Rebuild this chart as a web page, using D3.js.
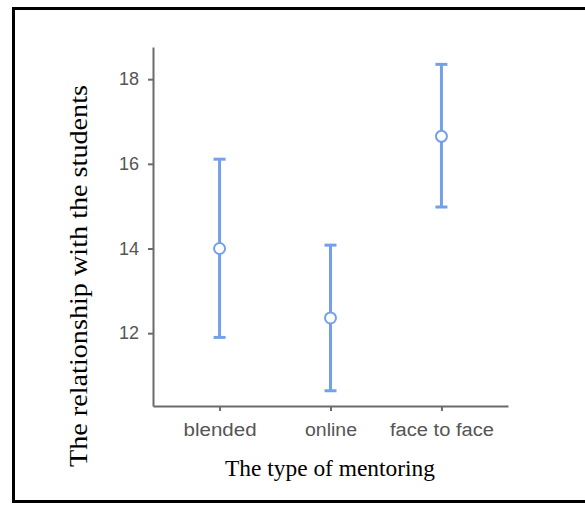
<!DOCTYPE html>
<html>
<head>
<meta charset="utf-8">
<script src="https://cdn.jsdelivr.net/npm/d3@7"></script>
<style>
  html, body { margin: 0; padding: 0; background: #fff; }
  svg { display: block; }
</style>
</head>
<body>
<svg id="chart" width="585" height="506"></svg>
<script>
// ---- data ----
const categories = ["blended", "online", "face to face"];
const means = [14.0, 12.36, 16.65];
const lower = [11.9, 10.64, 14.98];
const upper = [16.11, 14.08, 18.35];
const yTicks = [12, 14, 16, 18];
const xTitle = "The type of mentoring";
const yTitle = "The relationship with the students";

const svg = d3.select("#chart");
const W = 585, H = 506;
const color = "#74a0ea";
const axisColor = "#6b6b6b";

// frame border
svg.append("rect")
  .attr("x", 13.5).attr("y", 8.5)
  .attr("width", W + 10).attr("height", 493)
  .attr("fill", "#fff").attr("stroke", "#000").attr("stroke-width", 3);

const x = d3.scalePoint().domain(categories).range([153, 508]).padding(0.6);
const y = d3.scaleLinear().domain([10.28, 18.76]).range([406, 47]);

// y axis
const gy = svg.append("g").attr("transform", "translate(153,0)")
  .call(d3.axisLeft(y).tickValues(yTicks).tickSize(5).tickSizeOuter(0).tickPadding(9).tickFormat(d3.format("d")));
// x axis
const gx = svg.append("g").attr("transform", "translate(0,406)")
  .call(d3.axisBottom(x).tickSize(5).tickSizeOuter(0).tickPadding(12));

[gx, gy].forEach(g => {
  g.select(".domain").attr("stroke", axisColor).attr("stroke-width", 2);
  g.selectAll(".tick line").attr("stroke", axisColor).attr("stroke-width", 2);
  g.selectAll(".tick text")
    .attr("fill", "#555")
    .style("font-family", "Liberation Sans, Arial, sans-serif")
    .style("font-size", "18px");
});
gx.selectAll(".tick text").attr("textLength", (d, i) => [73, 52, 104][i]).attr("lengthAdjust", "spacingAndGlyphs");

// error bars
const bars = svg.append("g");
const data = categories.map((c, i) => ({ c, m: means[i], lo: lower[i], hi: upper[i] }));
const capW = 6;
bars.selectAll(".whisker").data(data).join("line")
  .attr("x1", d => x(d.c)).attr("x2", d => x(d.c))
  .attr("y1", d => y(d.lo)).attr("y2", d => y(d.hi))
  .attr("stroke", color).attr("stroke-width", 3);
bars.selectAll(".capTop").data(data).join("line")
  .attr("x1", d => x(d.c) - capW).attr("x2", d => x(d.c) + capW)
  .attr("y1", d => y(d.hi)).attr("y2", d => y(d.hi))
  .attr("stroke", color).attr("stroke-width", 3);
bars.selectAll(".capBot").data(data).join("line")
  .attr("x1", d => x(d.c) - capW).attr("x2", d => x(d.c) + capW)
  .attr("y1", d => y(d.lo)).attr("y2", d => y(d.lo))
  .attr("stroke", color).attr("stroke-width", 3);
bars.selectAll("circle").data(data).join("circle")
  .attr("cx", d => x(d.c)).attr("cy", d => y(d.m)).attr("r", 5.5)
  .attr("fill", "#fff").attr("stroke", color).attr("stroke-width", 2);

// titles
svg.append("text")
  .attr("x", 330).attr("y", 476)
  .attr("text-anchor", "middle")
  .attr("textLength", 210).attr("lengthAdjust", "spacingAndGlyphs")
  .style("font-family", "Liberation Serif, Times New Roman, serif")
  .style("font-size", "24px").attr("fill", "#000")
  .text(xTitle);

svg.append("text")
  .attr("transform", "translate(87,276) rotate(-90)")
  .attr("text-anchor", "middle")
  .attr("textLength", 382).attr("lengthAdjust", "spacingAndGlyphs")
  .style("font-family", "Liberation Serif, Times New Roman, serif")
  .style("font-size", "26px").attr("fill", "#000")
  .text(yTitle);
</script>
</body>
</html>
